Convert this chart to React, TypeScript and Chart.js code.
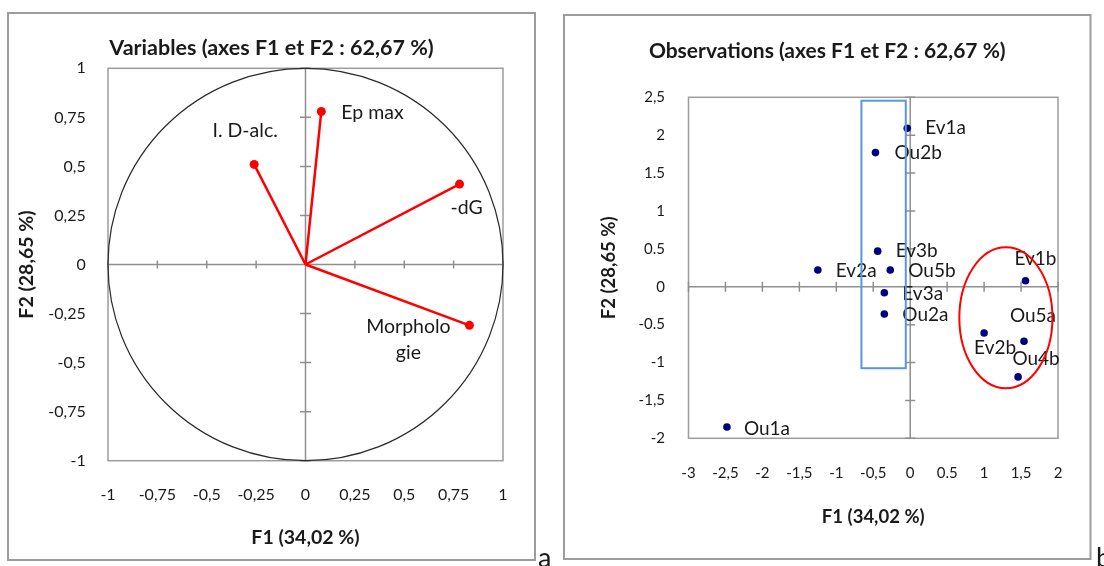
import React, { useEffect, useRef } from 'react';
import { Chart, registerables } from 'chart.js';

Chart.register(...registerables);

// ---------- Data: variables (correlation circle) ----------
const varLabels: (string | string[])[] = ['I. D-alc.', 'Ep max', '-dG', ['Morpholo', 'gie']];
const varF1 = [-0.26, 0.08, 0.78, 0.83];
const varF2 = [0.51, 0.78, 0.41, -0.31];

const varTickValues = [-1, -0.75, -0.5, -0.25, 0, 0.25, 0.5, 0.75, 1];
const varTickLabels = ['-1', '-0,75', '-0,5', '-0,25', '0', '0,25', '0,5', '0,75', '1'];

// ---------- Data: observations ----------
const obsLabels = ['Ev1a', 'Ou2b', 'Ev3b', 'Ev2a', 'Ou5b', 'Ev1b', 'Ev3a', 'Ou2a', 'Ev2b', 'Ou5a', 'Ou4b', 'Ou1a'];
const obsF1 = [-0.04, -0.47, -0.44, -1.25, -0.27, 1.56, -0.35, -0.35, 1.0, 1.54, 1.46, -2.48];
const obsF2 = [2.09, 1.77, 0.47, 0.22, 0.22, 0.08, -0.08, -0.36, -0.61, -0.72, -1.19, -1.85];

const obsXTickValues = [-3, -2.5, -2, -1.5, -1, -0.5, 0, 0.5, 1, 1.5, 2];
const obsXTickLabels = ['-3', '-2,5', '-2', '-1,5', '-1', '-0,5', '0', '0.5', '1', '1,5', '2'];
const obsYTickValues = [-2, -1.5, -1, -0.5, 0, 0.5, 1, 1.5, 2, 2.5];
const obsYTickLabels = ['-2', '-1,5', '-1', '-0.5', '0', '0.5', '1', '1.5', '2', '2,5'];

// highlighted groups (in data units)
const blueBoxF1 = [-0.66, -0.06];
const blueBoxF2 = [-1.075, 2.455];
const redEllipseCenter = [1.295, -0.41];
const redEllipseRadii = [0.63, 0.93];

// ---------- Styles ----------
const FONT = 'Lato, "Open Sans", sans-serif';
const TEXT = '#1a1a1a';
const AXIS_GRAY = '#8f8f8f';
const BORDER_GRAY = '#9c9c9c';

// label offsets in pixels [dx, dy, align]
const varLabelOffsets: [number, number, CanvasTextAlign][] = [
  [-9, -34, 'center'],
  [20, 1, 'left'],
  [7, 24, 'center'],
  [-61, 1, 'center'],
];
const obsLabelOffsets: [number, number, CanvasTextAlign][] = [
  [18, 0, 'left'],
  [19, 0, 'left'],
  [18, 0, 'left'],
  [18, 1, 'left'],
  [18, 1, 'left'],
  [10, -22, 'center'],
  [18, 1, 'left'],
  [18, 1, 'left'],
  [11, 15, 'center'],
  [9, -25, 'center'],
  [18, -18, 'center'],
  [17, 2, 'left'],
];

function labelFor(values: number[], labels: string[]) {
  return (v: number | string) => {
    const n = Number(v);
    const i = values.findIndex((t) => Math.abs(t - n) < 1e-6);
    return i >= 0 ? labels[i] : '';
  };
}

function makeDecor(opts: {
  panel: [number, number, number, number];
  letter: string;
  letterX: number;
  tickStepX: number;
  tickStepY: number;
  xTickHalf: number;
  yTickHalf: number;
  circle?: boolean;
  labels: (string | string[])[];
  offsets: [number, number, CanvasTextAlign][];
  labelSize: number;
  pts: { x: number; y: number }[];
  groups?: boolean;
}) {
  return {
    id: 'decor',
    beforeDraw(chart: any) {
      const { ctx } = chart;
      ctx.save();
      ctx.fillStyle = '#ffffff';
      ctx.fillRect(0, 0, chart.width, chart.height);
      const [l, t, r, b] = opts.panel;
      ctx.strokeStyle = BORDER_GRAY;
      ctx.lineWidth = 2;
      ctx.strokeRect(l, t, r - l, b - t);
      ctx.fillStyle = TEXT;
      ctx.font = `27px ${FONT}`;
      ctx.textAlign = 'left';
      ctx.textBaseline = 'alphabetic';
      ctx.fillText(opts.letter, opts.letterX, 567);
      ctx.restore();
    },
    beforeDatasetsDraw(chart: any) {
      const { ctx, chartArea: a, scales } = chart;
      const xs = scales.x;
      const ys = scales.y;
      ctx.save();
      ctx.strokeStyle = BORDER_GRAY;
      ctx.lineWidth = 1.5;
      ctx.strokeRect(a.left, a.top, a.right - a.left, a.bottom - a.top);
      const x0 = xs.getPixelForValue(0);
      const y0 = ys.getPixelForValue(0);
      ctx.strokeStyle = AXIS_GRAY;
      ctx.lineWidth = 1.5;
      ctx.beginPath();
      ctx.moveTo(a.left, y0);
      ctx.lineTo(a.right, y0);
      ctx.moveTo(x0, a.top);
      ctx.lineTo(x0, a.bottom);
      for (let v = xs.min; v <= xs.max + 1e-9; v += opts.tickStepX) {
        const px = xs.getPixelForValue(v);
        ctx.moveTo(px, y0 - opts.xTickHalf);
        ctx.lineTo(px, y0 + opts.xTickHalf);
      }
      for (let v = ys.min; v <= ys.max + 1e-9; v += opts.tickStepY) {
        const py = ys.getPixelForValue(v);
        ctx.moveTo(x0 - opts.yTickHalf, py);
        ctx.lineTo(x0 + opts.yTickHalf, py);
      }
      ctx.stroke();
      if (opts.circle) {
        const rx = xs.getPixelForValue(1) - x0;
        const ry = y0 - ys.getPixelForValue(1);
        ctx.strokeStyle = '#2a2a2a';
        ctx.lineWidth = 1.2;
        ctx.beginPath();
        ctx.ellipse(x0, y0, rx, ry, 0, 0, Math.PI * 2);
        ctx.stroke();
      }
      ctx.restore();
    },
    afterDatasetsDraw(chart: any) {
      const { ctx, scales } = chart;
      const xs = scales.x;
      const ys = scales.y;
      ctx.save();
      ctx.fillStyle = TEXT;
      ctx.font = `${opts.labelSize}px ${FONT}`;
      ctx.textBaseline = 'middle';
      opts.pts.forEach((p, i) => {
        const px = xs.getPixelForValue(p.x);
        const py = ys.getPixelForValue(p.y);
        const [dx, dy, align] = opts.offsets[i];
        ctx.textAlign = align;
        const lab = opts.labels[i];
        const lines = Array.isArray(lab) ? lab : [lab];
        lines.forEach((ln, k) => ctx.fillText(ln, px + dx, py + dy + k * 26));
      });
      if (opts.groups) {
        const bx1 = xs.getPixelForValue(blueBoxF1[0]);
        const bx2 = xs.getPixelForValue(blueBoxF1[1]);
        const by1 = ys.getPixelForValue(blueBoxF2[1]);
        const by2 = ys.getPixelForValue(blueBoxF2[0]);
        ctx.strokeStyle = '#5b95dc';
        ctx.lineWidth = 2;
        ctx.strokeRect(bx1, by1, bx2 - bx1, by2 - by1);
        const cx = xs.getPixelForValue(redEllipseCenter[0]);
        const cy = ys.getPixelForValue(redEllipseCenter[1]);
        const rx = xs.getPixelForValue(redEllipseCenter[0] + redEllipseRadii[0]) - cx;
        const ry = cy - ys.getPixelForValue(redEllipseCenter[1] + redEllipseRadii[1]);
        ctx.strokeStyle = '#ff0000';
        ctx.lineWidth = 2;
        ctx.beginPath();
        ctx.ellipse(cx, cy, rx, ry, 0, 0, Math.PI * 2);
        ctx.stroke();
      }
      ctx.restore();
    },
  };
}

function axisBase(
  min: number,
  max: number,
  step: number,
  fmt: (v: number | string) => string,
  pad: number,
  size: number,
) {
  return {
    type: 'linear' as const,
    min,
    max,
    grid: { display: false, drawTicks: false },
    border: { display: false },
    ticks: {
      stepSize: step,
      callback: fmt,
      autoSkip: false,
      maxRotation: 0,
      padding: pad,
      color: TEXT,
      font: { family: FONT, size },
    },
  };
}

function VariablesChart() {
  const ref = useRef<HTMLCanvasElement>(null);
  useEffect(() => {
    if (!ref.current) return;
    const pts = varF1.map((x, i) => ({ x, y: varF2[i] }));
    const chart = new Chart(ref.current, {
      type: 'scatter',
      data: {
        datasets: pts.map((p, i) => ({
          label: Array.isArray(varLabels[i]) ? (varLabels[i] as string[]).join('') : (varLabels[i] as string),
          data: [{ x: 0, y: 0 }, p],
          showLine: true,
          borderColor: '#ff0000',
          backgroundColor: '#ff0000',
          borderWidth: 2.5,
          pointRadius: [0, 4.5],
          pointBorderWidth: 0,
          pointBackgroundColor: '#ff0000',
        })),
      },
      options: {
        responsive: false,
        animation: false,
        layout: { padding: { left: 8, right: 17, top: 0, bottom: 0 } },
        plugins: {
          legend: { display: false },
          tooltip: { enabled: false },
          title: {
            display: true,
            text: 'Variables (axes F1 et F2 : 62,67 %)',
            color: TEXT,
            font: { family: FONT, size: 21.5, weight: 'bold' },
            padding: { top: 35.1, bottom: 7.4 },
          },
        },
        scales: {
          x: {
            ...axisBase(-1, 1, 0.25, labelFor(varTickValues, varTickLabels), 24.7, 16),
            position: 'bottom',
            title: {
              display: true,
              text: 'F1 (34,02 %)',
              color: TEXT,
              font: { family: FONT, size: 19.5, weight: 'bold' },
              padding: { top: 0, bottom: 16.3 },
            },
            afterFit: (s: any) => {
              s.height = 105.3;
            },
          },
          y: {
            ...axisBase(-1, 1, 0.25, labelFor(varTickValues, varTickLabels), 22.3, 16),
            position: 'left',
            title: {
              display: true,
              text: 'F2 (28,65 %)',
              color: TEXT,
              font: { family: FONT, size: 19.5, weight: 'bold' },
              padding: { top: 7.1, bottom: 0 },
            },
            afterFit: (s: any) => {
              s.width = 100;
            },
          },
          yR: {
            type: 'linear',
            position: 'right',
            grid: { display: false },
            border: { display: false },
            ticks: { display: false },
            afterFit: (s: any) => {
              s.width = 32;
            },
          },
        },
      } as any,
      plugins: [
        makeDecor({
          panel: [8, 13, 535, 560],
          letter: 'a',
          letterX: 538,
          tickStepX: 0.25,
          tickStepY: 0.25,
          xTickHalf: 4,
          yTickHalf: 5.5,
          circle: true,
          labels: varLabels,
          offsets: varLabelOffsets,
          labelSize: 19.5,
          pts,
        }) as any,
      ],
    });
    return () => chart.destroy();
  }, []);
  return (
    <canvas
      ref={ref}
      width={552}
      height={566}
      style={{ position: 'absolute', left: 0, top: 0, width: 552, height: 566 }}
    />
  );
}

function ObservationsChart() {
  const ref = useRef<HTMLCanvasElement>(null);
  useEffect(() => {
    if (!ref.current) return;
    const pts = obsF1.map((x, i) => ({ x, y: obsF2[i] }));
    const chart = new Chart(ref.current, {
      type: 'scatter',
      data: {
        datasets: [
          {
            label: 'Observations',
            data: pts,
            pointRadius: 3.8,
            pointBorderWidth: 0,
            pointBackgroundColor: '#000080',
            backgroundColor: '#000080',
          },
        ],
      },
      options: {
        responsive: false,
        animation: false,
        layout: { padding: { left: 12, right: 13.5, top: 0, bottom: 0 } },
        plugins: {
          legend: { display: false },
          tooltip: { enabled: false },
          title: {
            display: true,
            text: 'Observations (axes F1 et F2 : 62,67 %)',
            color: TEXT,
            font: { family: FONT, size: 21, weight: 'bold' },
            padding: { top: 39.1, bottom: 33 },
          },
        },
        scales: {
          x: {
            ...axisBase(-3, 2, 0.5, labelFor(obsXTickValues, obsXTickLabels), 25.4, 15),
            position: 'bottom',
            title: {
              display: true,
              text: 'F1 (34,02 %)',
              color: TEXT,
              font: { family: FONT, size: 18.5, weight: 'bold' },
              padding: { top: 0, bottom: 38.2 },
            },
            afterFit: (s: any) => {
              s.height = 127.7;
            },
          },
          y: {
            ...axisBase(-2, 2.5, 0.5, labelFor(obsYTickValues, obsYTickLabels), 23.5, 15),
            position: 'left',
            title: {
              display: true,
              text: 'F2 (28,65 %)',
              color: TEXT,
              font: { family: FONT, size: 18.5, weight: 'bold' },
              padding: { top: 33.5, bottom: 0 },
            },
            afterFit: (s: any) => {
              s.width = 124.5;
            },
          },
          yR: {
            type: 'linear',
            position: 'right',
            grid: { display: false },
            border: { display: false },
            ticks: { display: false },
            afterFit: (s: any) => {
              s.width = 32.5;
            },
          },
        },
      } as any,
      plugins: [
        makeDecor({
          panel: [12, 15, 538.5, 559],
          letter: 'b',
          letterX: 544,
          tickStepX: 0.5,
          tickStepY: 0.5,
          xTickHalf: 5,
          yTickHalf: 5,
          labels: obsLabels,
          offsets: obsLabelOffsets,
          labelSize: 19,
          pts,
          groups: true,
        }) as any,
      ],
    });
    return () => chart.destroy();
  }, []);
  return (
    <canvas
      ref={ref}
      width={552}
      height={566}
      style={{ position: 'absolute', left: 552, top: 0, width: 552, height: 566 }}
    />
  );
}

export default function App() {
  return (
    <div style={{ position: 'absolute', left: 0, top: 0, width: 1104, height: 566, background: '#fff' }}>
      <VariablesChart />
      <ObservationsChart />
    </div>
  );
}
